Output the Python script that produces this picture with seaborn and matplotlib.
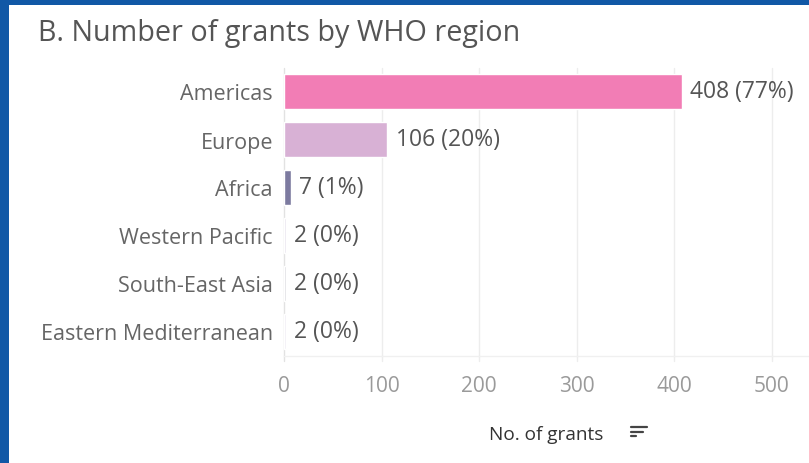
import matplotlib
matplotlib.use("Agg")
import matplotlib.pyplot as plt
import seaborn as sns
import pandas as pd
from matplotlib.patches import Rectangle
from matplotlib.lines import Line2D

regions = ["Americas", "Europe", "Africa", "Western Pacific", "South-East Asia", "Eastern Mediterranean"]
grants = [408, 106, 7, 2, 2, 2]
shares = [77, 20, 1, 0, 0, 0]
colors = ["#F27DB5", "#D8B1D5", "#7C7A9F", "#E6E1EC", "#D9D9DE", "#EEEBF2"]
xticks = [0, 100, 200, 300, 400, 500]

df = pd.DataFrame({"region": regions, "grants": grants})

sns.set_theme(style="white")
plt.rcParams['font.family'] = ['Open Sans', 'DejaVu Sans']

fig = plt.figure(figsize=(8.09, 4.64), dpi=100)
fig.patch.set_facecolor("#1158A6")
fig.patches.append(Rectangle((9 / 809, 0), 1 - 9 / 809, 1 - 6 / 464, transform=fig.transFigure,
                             facecolor="white", edgecolor="none", zorder=-10))

ax = fig.add_axes([284 / 809, 107.5 / 464, 525 / 809, 288 / 464])
ax.set_zorder(5)
ax.set_facecolor("none")
sns.barplot(data=df, x="grants", y="region", hue="region", palette=colors, saturation=1,
            order=regions, hue_order=regions, legend=False, width=0.73, ax=ax, zorder=3)

ax.set_xlim(0, 538)
ax.set_xticks(xticks)
ax.set_xticklabels([str(t) for t in xticks])
for x in xticks:
    ax.axvline(x, ymin=-0.02, ymax=1, color="#EDEDED" if x else "#E2E2E2", lw=1, zorder=1,
               clip_on=False)
for s in ax.spines.values():
    s.set_visible(False)
ax.spines["bottom"].set_visible(True)
ax.spines["bottom"].set_color("#F0F0F0")
ax.spines["bottom"].set_linewidth(1)
ax.tick_params(axis="x", length=0, pad=14, labelsize=15, labelcolor="#9A9A9A")
ax.tick_params(axis="y", length=0, pad=8, labelsize=15.5, labelcolor="#666666")
ax.set_xlabel("")
ax.set_ylabel("")

for i, (g, s) in enumerate(zip(grants, shares)):
    ax.annotate(f"{g} ({s}%)", xy=(g, i), xytext=(6, 0), textcoords="offset points",
                va="center", ha="left", fontsize=16.5, color="#555555")

fig.text(38 / 809, 1 - 33 / 464, "B. Number of grants by WHO region", fontsize=20.7,
         color="#555555", va="center", ha="left")
fig.text(546 / 809, 1 - 435 / 464, "No. of grants", fontsize=13.7, color="#333333",
         va="center", ha="center")
# sort icon
for k, (x0, x1) in enumerate([(631, 647), (631, 643), (631, 636)]):
    yy = 1 - (428 + k * 4.5) / 464
    fig.lines.append(Line2D([x0 / 809, x1 / 809], [yy, yy], transform=fig.transFigure,
                            color="#444444", lw=1.6))

fig.savefig("out.png", dpi=100)
